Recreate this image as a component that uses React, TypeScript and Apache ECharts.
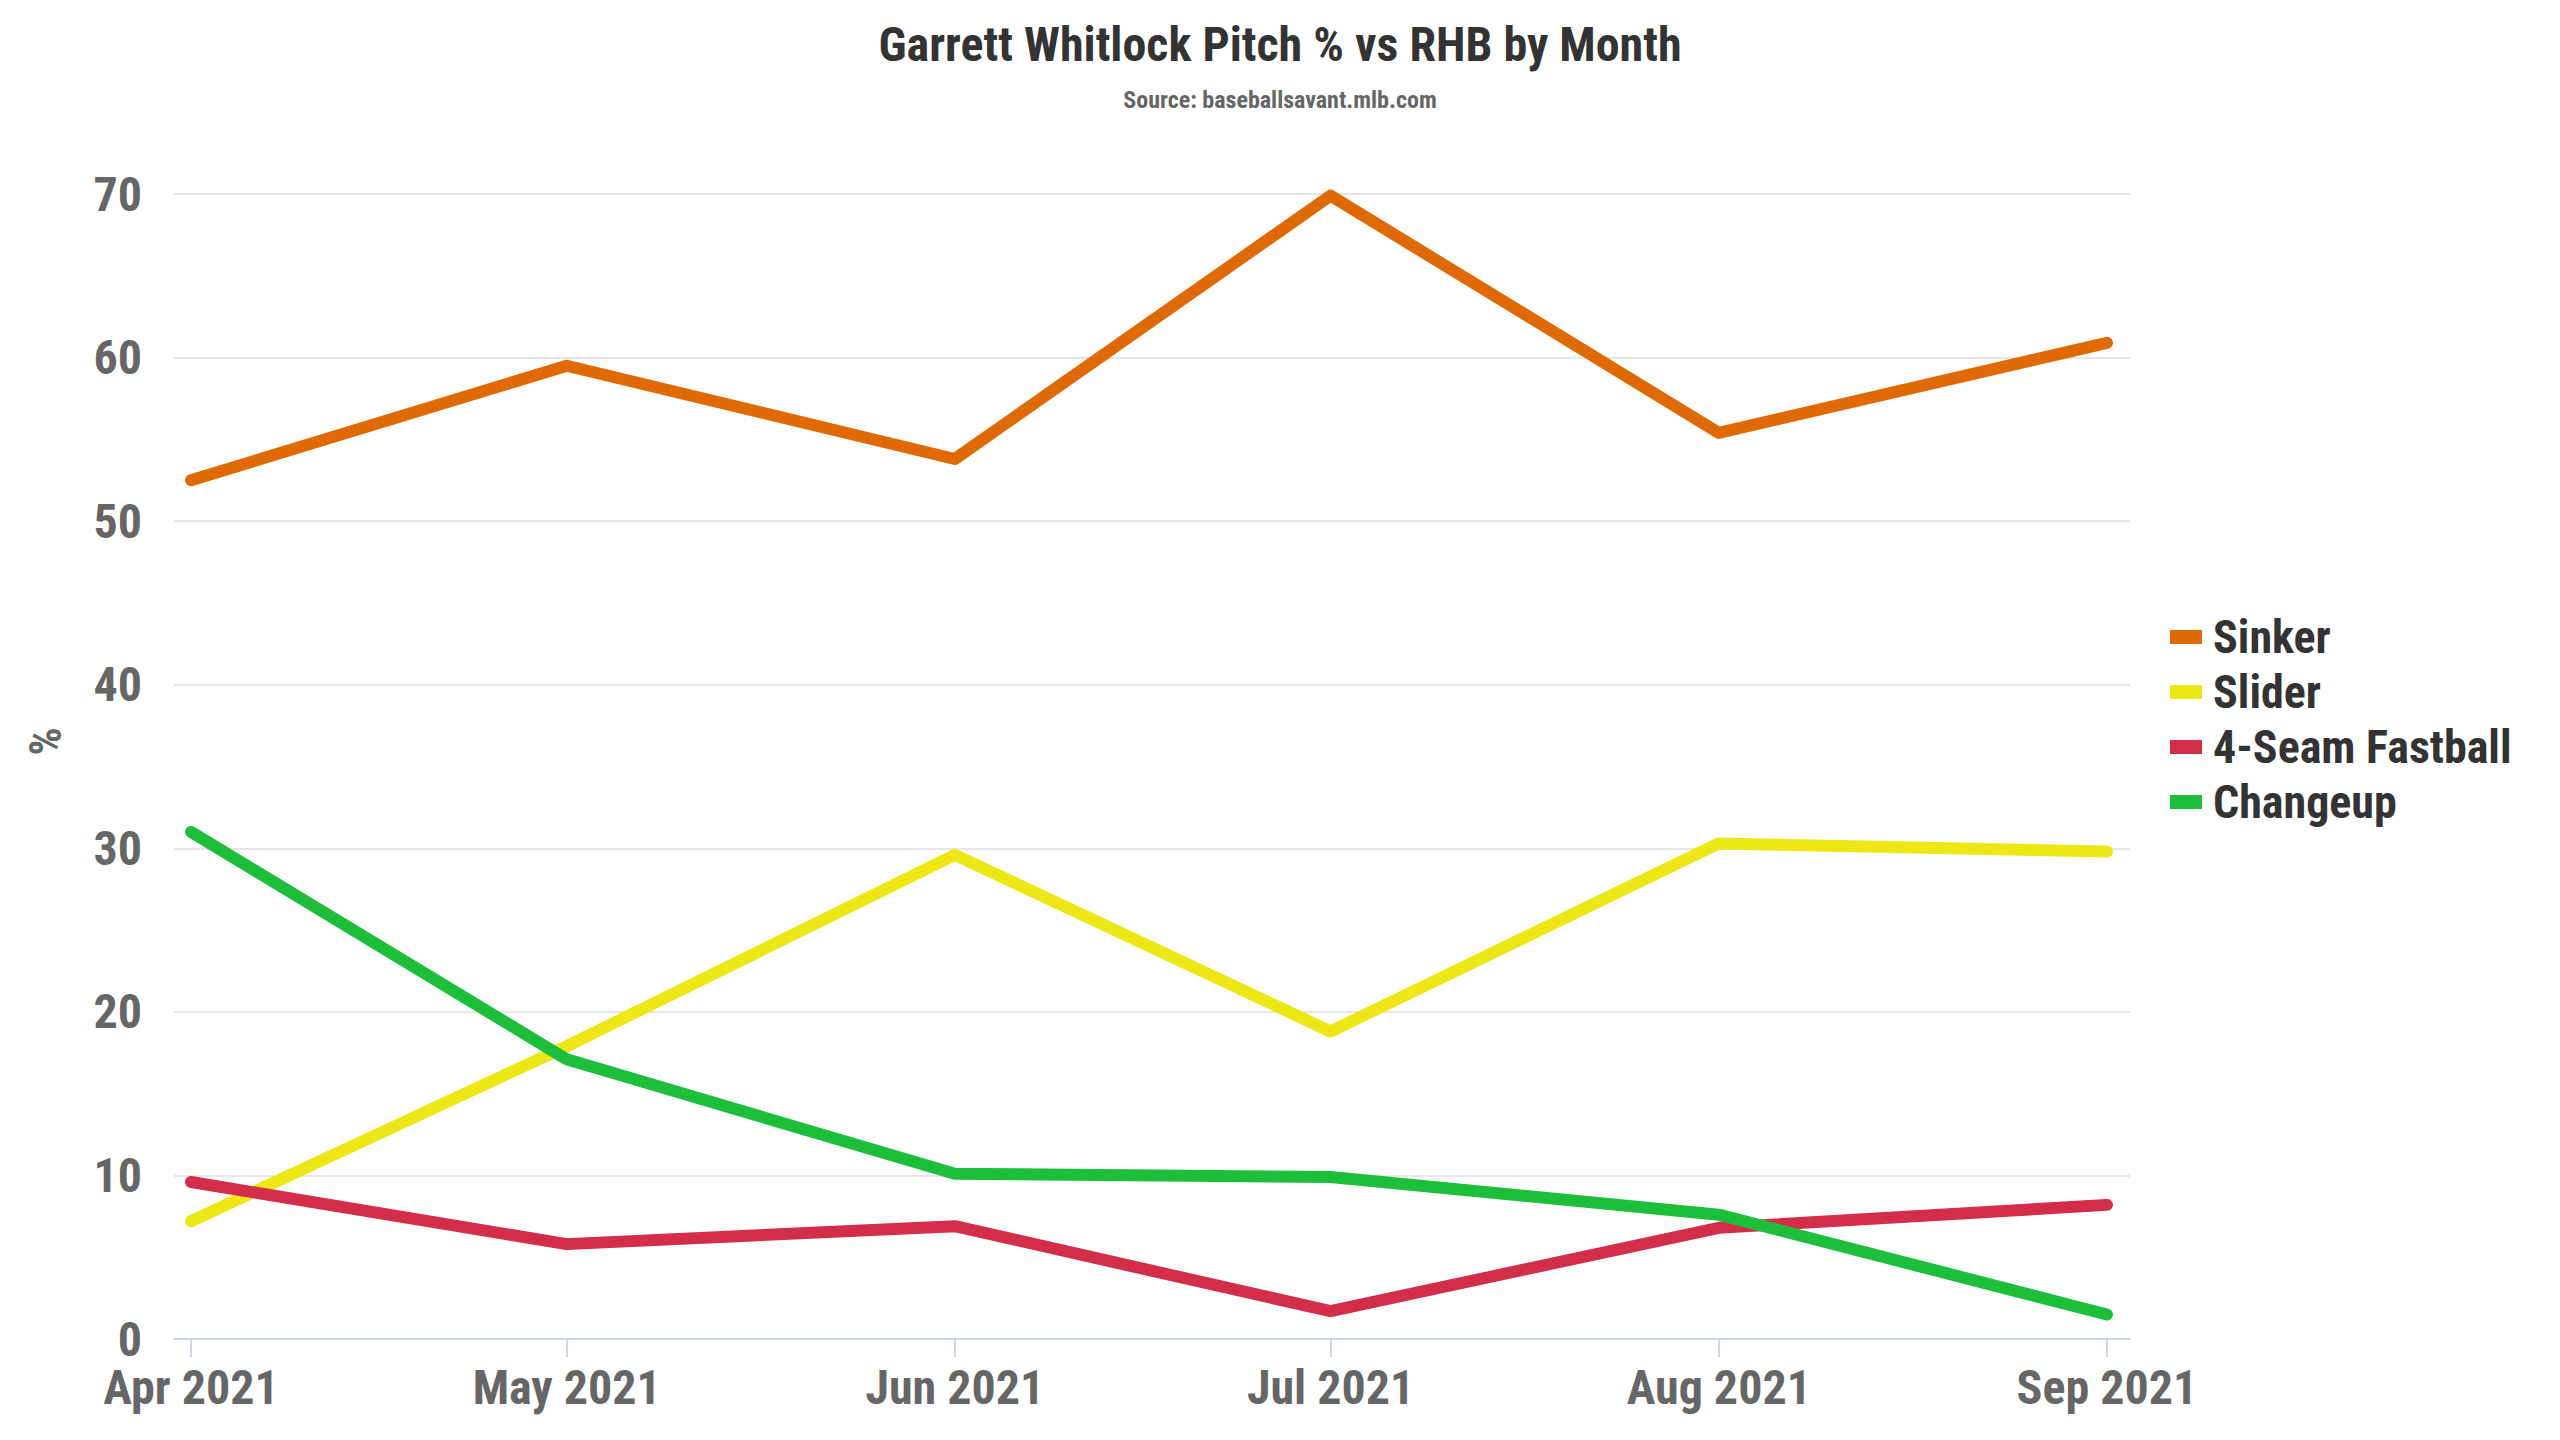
import React, { useEffect, useRef } from 'react';
import * as echarts from 'echarts';

// month starts (local time) and their labels
const monthDates = ['2021-04-01', '2021-05-01', '2021-06-01', '2021-07-01', '2021-08-01', '2021-09-01'];
const monthLabels = ['Apr 2021', 'May 2021', 'Jun 2021', 'Jul 2021', 'Aug 2021', 'Sep 2021'];

const seriesNames = ['Sinker', 'Slider', '4-Seam Fastball', 'Changeup'];
const seriesColors = ['#df6a04', '#eee716', '#d22d49', '#1dbe3a'];

const sinker = [52.5, 59.5, 53.8, 69.9, 55.4, 60.9];
const slider = [7.2, 17.9, 29.6, 18.8, 30.3, 29.8];
const fastball = [9.6, 5.8, 6.9, 1.7, 6.8, 8.2];
const changeup = [31.0, 17.1, 10.1, 9.9, 7.6, 1.5];

const yTicks = [0, 10, 20, 30, 40, 50, 60, 70];

const FONT = '"Roboto Condensed", "Liberation Sans Narrow", "DejaVu Sans Condensed", Roboto, sans-serif';
const DAY = 24 * 3600 * 1000;

const toTime = (d: string) => new Date(d + 'T00:00:00').getTime();

const App: React.FC = () => {
  const chartRef = useRef<HTMLDivElement | null>(null);

  useEffect(() => {
    if (!chartRef.current) return;
    const chart = echarts.init(chartRef.current, null, { renderer: 'svg' });

    const times = monthDates.map(toTime);
    const allValues = [sinker, slider, fastball, changeup];

    const option = {
      animation: false,
      backgroundColor: '#ffffff',
      textStyle: { fontFamily: FONT },
      title: {
        text: 'Garrett Whitlock Pitch % vs RHB by Month',
        subtext: 'Source: baseballsavant.mlb.com',
        left: 'center',
        top: 15,
        itemGap: 20,
        textStyle: { fontFamily: FONT, fontSize: 48, fontWeight: 'bold', color: '#333333' },
        subtextStyle: { fontFamily: FONT, fontSize: 24, fontWeight: 'bold', color: '#666666' },
      },
      legend: {
        orient: 'vertical',
        left: 2165,
        top: 609,
        icon: 'rect',
        itemWidth: 32,
        itemHeight: 14,
        itemGap: 9,
        data: seriesNames,
        textStyle: { fontFamily: FONT, fontSize: 46, fontWeight: 'bold', color: '#333333', padding: [0, 0, 0, 6] },
      },
      grid: { left: 174, right: 430, top: 194, bottom: 101 },
      xAxis: {
        type: 'value',
        min: times[0] - 1.36 * DAY,
        max: times[times.length - 1] + 1.84 * DAY,
        axisLine: { lineStyle: { color: '#ccd6eb', width: 2 } },
        axisTick: { show: true, length: 18, lineStyle: { color: '#ccd6eb', width: 2 }, customValues: times },
        splitLine: { show: false },
        axisLabel: {
          customValues: times,
          hideOverlap: false,
          showMinLabel: true,
          showMaxLabel: true,
          margin: 29,
          fontFamily: FONT,
          fontSize: 48,
          lineHeight: 38,
          fontWeight: 'bold',
          color: '#666666',
          formatter: (v: number) => {
            const i = times.indexOf(v);
            return i >= 0 ? monthLabels[i] : '';
          },
        },
      },
      yAxis: {
        type: 'value',
        min: yTicks[0],
        max: yTicks[yTicks.length - 1],
        interval: 10,
        name: '%',
        nameLocation: 'middle',
        nameGap: 106,
        nameTextStyle: { fontFamily: FONT, fontSize: 44, fontWeight: 'bold', color: '#666666', padding: [0, 0, 0, 50] },
        axisLine: { show: false },
        axisTick: { show: false },
        splitLine: { lineStyle: { color: '#e6e6e6', width: 2 } },
        axisLabel: { margin: 32, fontFamily: FONT, fontSize: 48, lineHeight: 38, fontWeight: 'bold', color: '#666666' },
      },
      series: seriesNames.map((name, i) => ({
        name,
        type: 'line',
        data: times.map((t, j) => [t, allValues[i][j]]),
        showSymbol: false,
        symbol: 'none',
        color: seriesColors[i],
        lineStyle: { width: 12, color: seriesColors[i], cap: 'round', join: 'round' },
        emphasis: { disabled: true },
      })),
    };

    chart.setOption(option);
    return () => {
      chart.dispose();
    };
  }, []);

  return (
    <div
      ref={chartRef}
      style={{ position: 'fixed', left: 0, top: 0, width: '2560px', height: '1440px', backgroundColor: 'white' }}
    />
  );
};

export default App;
